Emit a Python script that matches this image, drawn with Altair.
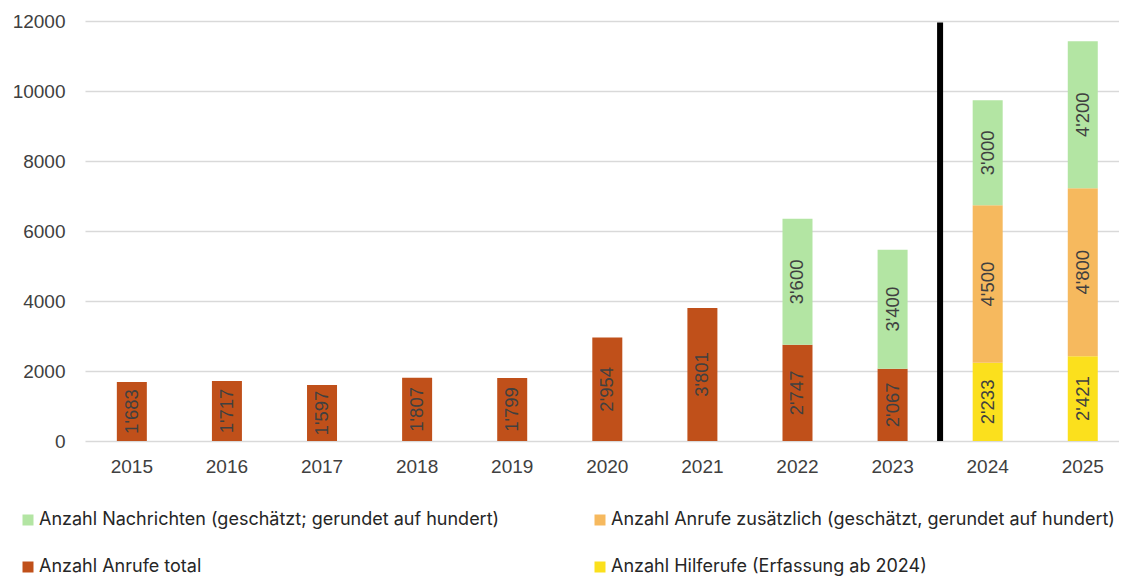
import altair as alt
import pandas as pd

years = ["2015", "2016", "2017", "2018", "2019", "2020", "2021", "2022", "2023", "2024", "2025"]
anrufe_total = [1683, 1717, 1597, 1807, 1799, 2954, 3801, 2747, 2067, None, None]
hilferufe = [None, None, None, None, None, None, None, None, None, 2233, 2421]
anrufe_zusaetzlich = [None, None, None, None, None, None, None, None, None, 4500, 4800]
nachrichten = [None, None, None, None, None, None, None, 3600, 3400, 3000, 4200]

s_nach = "Anzahl Nachrichten (geschätzt; gerundet auf hundert)"
s_zus = "Anzahl Anrufe zusätzlich (geschätzt, gerundet auf hundert)"
s_tot = "Anzahl Anrufe total"
s_hilf = "Anzahl Hilferufe (Erfassung ab 2024)"

# legend is filled column by column
series_order = [s_nach, s_tot, s_zus, s_hilf]
series_colors = ["#b3e5a3", "#c0501a", "#f6b95e", "#fbe01d"]

rows = []
for ser, vals, ordv in [(s_tot, anrufe_total, 0), (s_hilf, hilferufe, 0),
                        (s_zus, anrufe_zusaetzlich, 1), (s_nach, nachrichten, 2)]:
    for y, v in zip(years, vals):
        if v is not None:
            rows.append({"year": y, "series": ser, "value": v, "ord": ordv})
df = pd.DataFrame(rows)

x_scale = alt.Scale(domain=years, paddingInner=0.6845, paddingOuter=0.279, align=0.6)
y_scale = alt.Scale(domain=[0, 12000], nice=False)

base = alt.Chart(df).transform_stack(
    stack="value", groupby=["year"], as_=["y0", "y1"], sort=[alt.SortField("ord", order="ascending")]
).transform_calculate(
    mid="(datum.y0 + datum.y1) / 2",
    label="replace(format(datum.value, ','), ',', \"'\")",
)

bars = base.mark_bar().encode(
    x=alt.X("year:N", scale=x_scale, sort=years,
            axis=alt.Axis(title=None, labelAngle=0, ticks=False, tickSize=0, domain=False,
                          labelFont="Liberation Sans", labelFontSize=19, labelColor="#404040",
                          labelPadding=16, grid=False)),
    y=alt.Y("y0:Q", scale=y_scale,
            axis=alt.Axis(title=None, values=[0, 2000, 4000, 6000, 8000, 10000, 12000], format="d",
                          ticks=False, tickSize=0, domain=False, grid=True, gridColor="#d9d9d9",
                          gridWidth=1.5, labelFont="Liberation Sans", labelFontSize=19,
                          labelColor="#404040", labelPadding=20)),
    y2="y1:Q",
    color=alt.Color("series:N", scale=alt.Scale(domain=series_order, range=series_colors),
                    legend=alt.Legend(title=None, orient="none", legendX=-66, legendY=490,
                                      columns=2, columnPadding=91, rowPadding=29,
                                      symbolType="square", symbolSize=121, symbolStrokeWidth=0,
                                      labelFont="Inter", labelFontSize=18, labelColor="#262626",
                                      labelOffset=2, labelLimit=0)),
)

labels = base.mark_text(angle=270, align="center", baseline="middle", fontSize=18.5,
                        font="Liberation Sans", color="#404040").encode(
    x=alt.X("year:N", scale=x_scale, sort=years),
    y=alt.Y("mid:Q", scale=y_scale),
    text="label:N",
)

sep = alt.Chart(pd.DataFrame({"a": [0]})).mark_rule(color="black", strokeWidth=6, xOffset=47.5).encode(
    x=alt.X(datum="2023", type="nominal", scale=x_scale, bandPosition=0.5),
    y=alt.Y(datum=0, type="quantitative", scale=y_scale),
    y2=alt.Y2(datum=11960),
)

chart = alt.layer(bars, labels, sep).properties(
    width=1034, height=420,
    autosize=alt.AutoSizeParams(type="none"),
    padding={"left": 77, "top": 13, "right": 0, "bottom": 136},
).configure_view(stroke=None)

chart.save("out.html", embed_options={"renderer": "svg", "actions": False})
